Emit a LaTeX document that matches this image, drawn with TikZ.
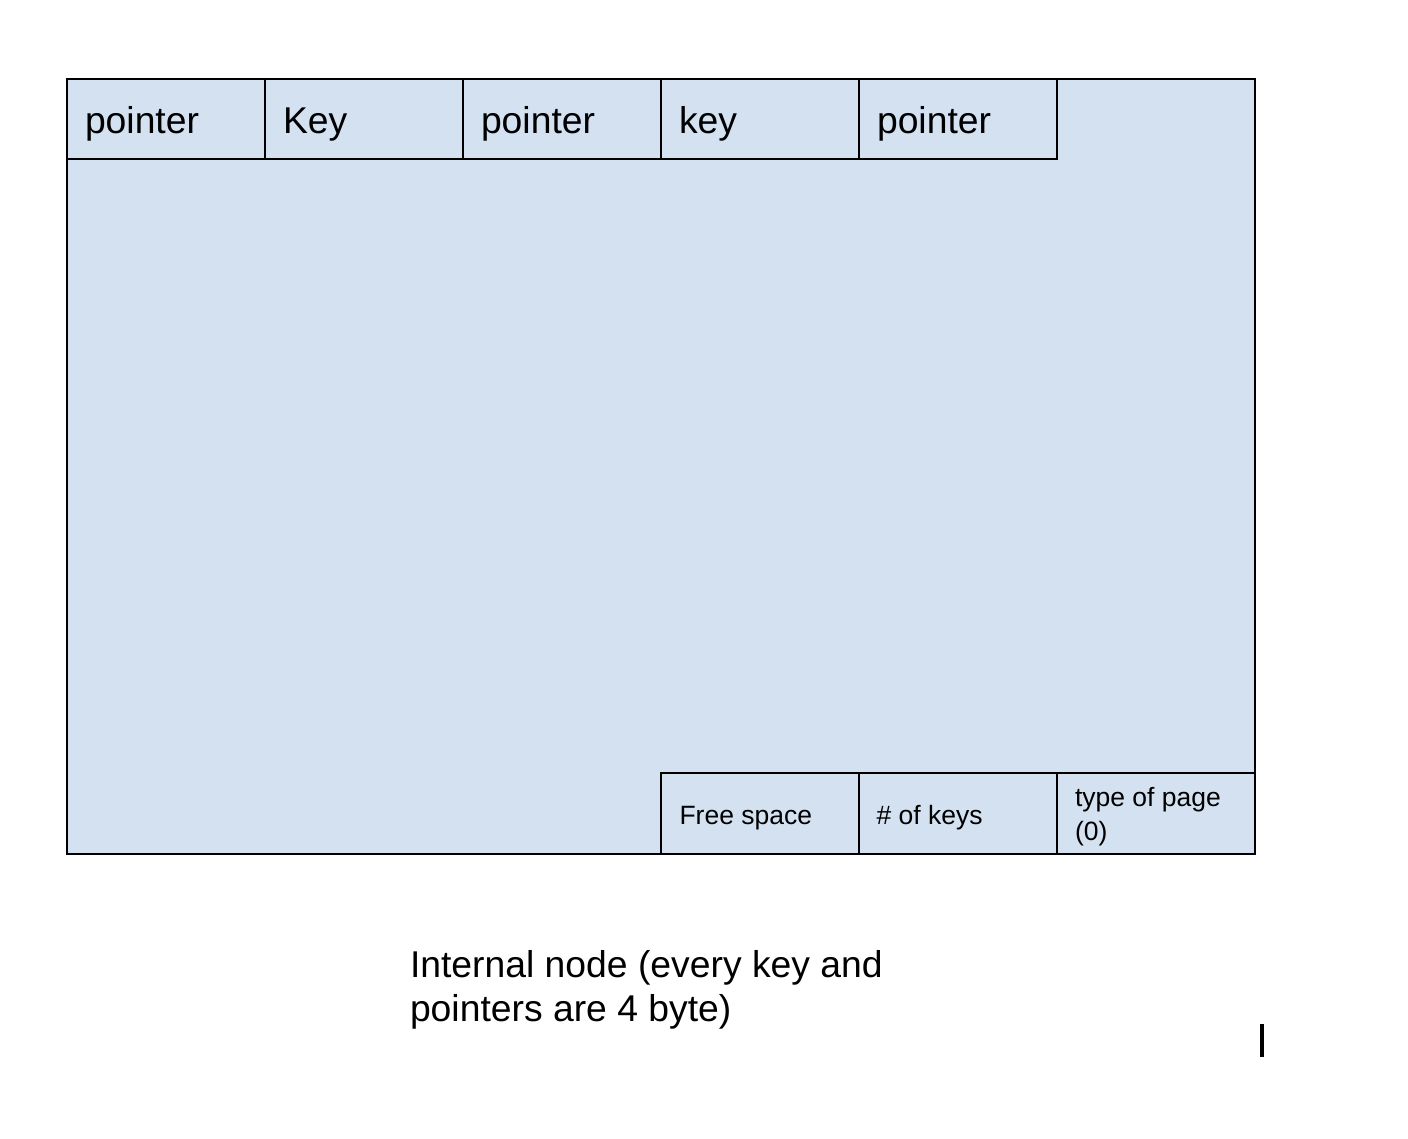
\documentclass[tikz,border=0pt]{standalone}
\usepackage{fontspec}
\setmainfont{Liberation Sans}
\definecolor{pagefill}{RGB}{212,225,241}
\begin{document}
\begin{tikzpicture}[x=1pt,y=-1pt,line width=2pt,
  cell/.style={draw=black,minimum width=198pt,inner sep=0pt,outer sep=0pt},
  big/.style={font=\fontsize{37.3}{44}\selectfont,anchor=base west,inner sep=0pt},
  small/.style={font=\fontsize{26.5}{34}\selectfont,anchor=base west,inner sep=0pt}]
\useasboundingbox (0,0) rectangle (1408,1138);
\node[draw=black,fill=pagefill,minimum width=1188pt,minimum height=775pt,inner sep=0pt,outer sep=0pt] (page) at (661,466.5) {};
% top row
\node[cell,minimum height=80pt] (c1) at (166,119) {};
\node[cell,minimum height=80pt] (c2) at (364,119) {};
\node[cell,minimum height=80pt] (c3) at (562,119) {};
\node[cell,minimum height=80pt] (c4) at (760,119) {};
\node[cell,minimum height=80pt] (c5) at (958,119) {};
\node[big] (t1) at (84,133) {pointer};
\node[big] (t2) at (282,133) {Key};
\node[big] (t3) at (480,133) {pointer};
\node[big] (t4) at (678,133) {key};
\node[big] (t5) at (876,133) {pointer};
% bottom row
\node[cell,minimum height=81pt] (b1) at (760,813.5) {};
\node[cell,minimum height=81pt] (b2) at (958,813.5) {};
\node[cell,minimum height=81pt] (b3) at (1156,813.5) {};
\node[small] (s1) at (678.5,824) {Free space};
\node[small] (s2) at (875.5,824) {\# of keys};
\node[small] (s3a) at (1074,806) {type of page};
\node[small] (s3b) at (1074,840) {(0)};
% caption
\node[big] (cap1) at (409,977) {Internal node (every key and};
\node[big] (cap2) at (409,1021) {pointers are 4 byte)};
% cursor
\node[fill=black,minimum width=4pt,minimum height=33pt,inner sep=0pt,outer sep=0pt] (cursor) at (1262,1040.5) {};
\end{tikzpicture}
\end{document}
